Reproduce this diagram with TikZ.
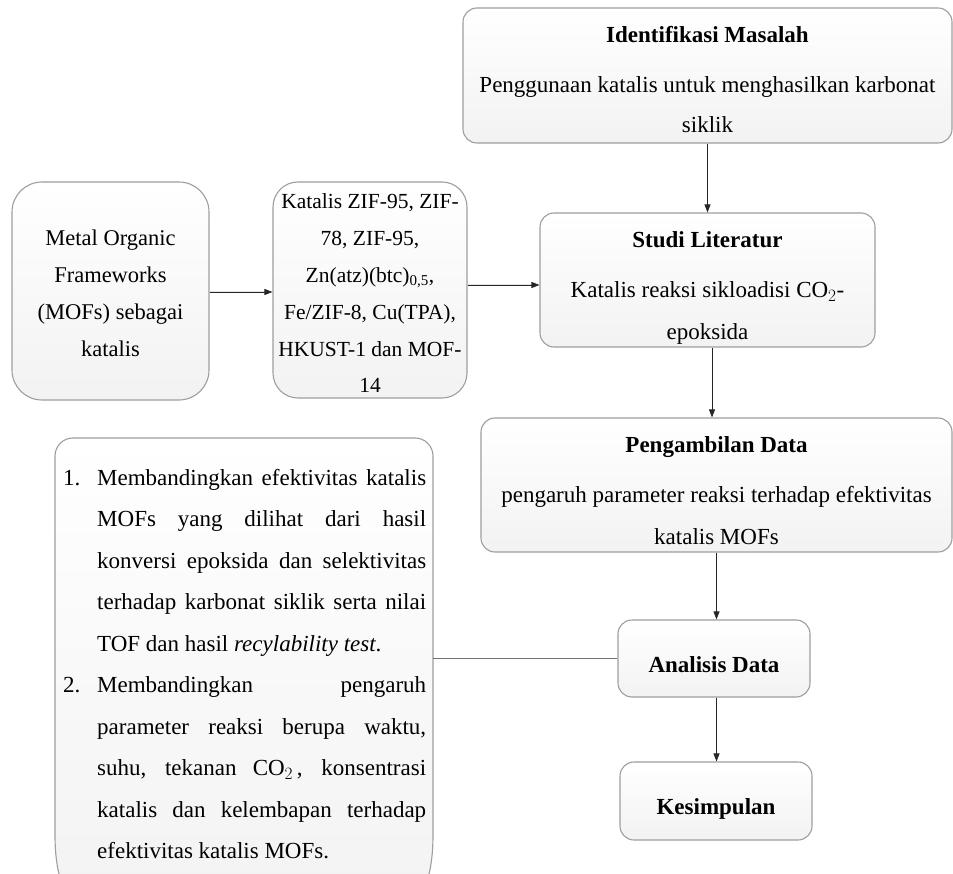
\documentclass[tikz,border=0pt]{standalone}
\usepackage{fontspec}
\setmainfont{Liberation Serif}
\usetikzlibrary{arrows.meta}
\begin{document}
\begin{tikzpicture}[x=1pt,y=-1pt,
  box/.style={draw=black!38, line width=1.1pt, top color=white, bottom color=black!5, rounded corners=14pt, inner sep=0pt},
  lstbox/.style={draw=black!38, line width=1.1pt, top color=white, bottom color=black!5},
  arr/.style={-{Triangle[length=8pt,width=6pt]}, line width=0.8pt, draw=black!85, fill=black!85},
  conn/.style={line width=0.8pt, draw=black!55},
  txt/.style={anchor=base, inner sep=0pt},
]
\fill[white] (0,0) rectangle (953,874);
\useasboundingbox (0,0) rectangle (953,874);

% boxes
\node[box, minimum width=489pt, minimum height=135pt] (idm) at (707.5,75.5) {};
\node[box, minimum width=335pt, minimum height=134pt] (stu) at (707.5,280) {};
\node[box, minimum width=471pt, minimum height=134pt] (pen) at (716.5,485) {};
\node[box, minimum width=192pt, minimum height=77pt] (ana) at (714,658.5) {};
\node[box, minimum width=192pt, minimum height=78pt] (kes) at (716,801) {};
\node[box, rounded corners=30pt, minimum width=197pt, minimum height=218pt] (mof) at (110.5,291) {};
\node[box, rounded corners=25pt, minimum width=194pt, minimum height=216pt] (kat) at (370,290) {};
\node[inner sep=0pt, minimum width=378pt, minimum height=482pt] (lst) at (244,679) {};
\path[lstbox] (55,456) .. controls (55,446) and (63,438) .. (73,438) -- (415,438)
  .. controls (425,438) and (433,446) .. (433,456) -- (433,835)
  .. controls (433,885) and (418,920) .. (378,920) -- (110,920)
  .. controls (70,920) and (55,885) .. (55,835) -- cycle;

% texts
\node[txt] (idmT) at (707.5,43) {\fontsize{23}{23}\selectfont\bfseries Identifikasi Masalah};
\node[txt] (idmB) at (707.5,93) {\parbox[t]{480pt}{\fontsize{23}{40}\selectfont\centering Penggunaan katalis untuk menghasilkan karbonat\\siklik}};
\node[txt] (stuT) at (707.5,248) {\fontsize{23}{23}\selectfont\bfseries Studi Literatur};
\node[txt] (stuB) at (707.5,298) {\parbox[t]{330pt}{\fontsize{23}{42}\selectfont\centering Katalis reaksi sikloadisi CO$_2$-\\epoksida}};
\node[txt] (penT) at (716.5,452) {\fontsize{23}{23}\selectfont\bfseries Pengambilan Data};
\node[txt] (penB) at (716.5,502) {\parbox[t]{465pt}{\fontsize{23}{42}\selectfont\centering pengaruh parameter reaksi terhadap efektivitas\\katalis MOFs}};
\node[txt] (anaT) at (714,672) {\fontsize{23}{23}\selectfont\bfseries Analisis Data};
\node[txt] (kesT) at (716,814) {\fontsize{23}{23}\selectfont\bfseries Kesimpulan};
\node[txt] (mofT) at (110.5,246) {\parbox[t]{190pt}{\fontsize{22.5}{37}\selectfont\centering Metal Organic\\Frameworks\\(MOFs) sebagai\\katalis}};
\node[txt] (katT) at (370,209) {\parbox[t]{190pt}{\fontsize{21.5}{36.8}\selectfont\centering Katalis ZIF-95, ZIF-\\78, ZIF-95,\\Zn(atz)(btc)\textsubscript{0,5},\\Fe/ZIF-8, Cu(TPA),\\HKUST-1 dan MOF-\\14}};
\node[txt, anchor=base west] (lstT) at (63,485) {\parbox[t]{363pt}{\fontsize{23}{41.5}\selectfont
\makebox[34pt][l]{1.}\makebox[329pt][s]{Membandingkan efektivitas katalis}\\
\hspace*{34pt}\makebox[329pt][s]{MOFs yang dilihat dari hasil}\\
\hspace*{34pt}\makebox[329pt][s]{konversi epoksida dan selektivitas}\\
\hspace*{34pt}\makebox[329pt][s]{terhadap karbonat siklik serta nilai}\\
\hspace*{34pt}TOF dan hasil \textit{recylability test}.\\
\makebox[34pt][l]{2.}\makebox[329pt][s]{Membandingkan pengaruh}\\
\hspace*{34pt}\makebox[329pt][s]{parameter reaksi berupa waktu,}\\
\hspace*{34pt}\makebox[329pt][s]{suhu, tekanan CO$_2$\,, konsentrasi}\\
\hspace*{34pt}\makebox[329pt][s]{katalis dan kelembapan terhadap}\\
\hspace*{34pt}efektivitas katalis MOFs.}};

% connectors
\coordinate (cyL) at (0,292);
\coordinate (cyR) at (0,285);
\coordinate (cx) at (712,0);
\draw[arr] (mof.east |- cyL) -- (kat.west |- cyL);
\draw[arr] (kat.east |- cyR) -- (stu.west |- cyR);
\draw[arr] (idm.south) -- (stu.north);
\draw[arr] (stu.south -| cx) -- (pen.north -| cx);
\draw[arr] (pen.south) -- (ana.north -| pen.south);
\draw[arr] (ana.south -| pen.south) -- (kes.north -| pen.south);
\draw[conn] (lst.east |- ana.west) -- (ana.west);
\end{tikzpicture}
\end{document}
